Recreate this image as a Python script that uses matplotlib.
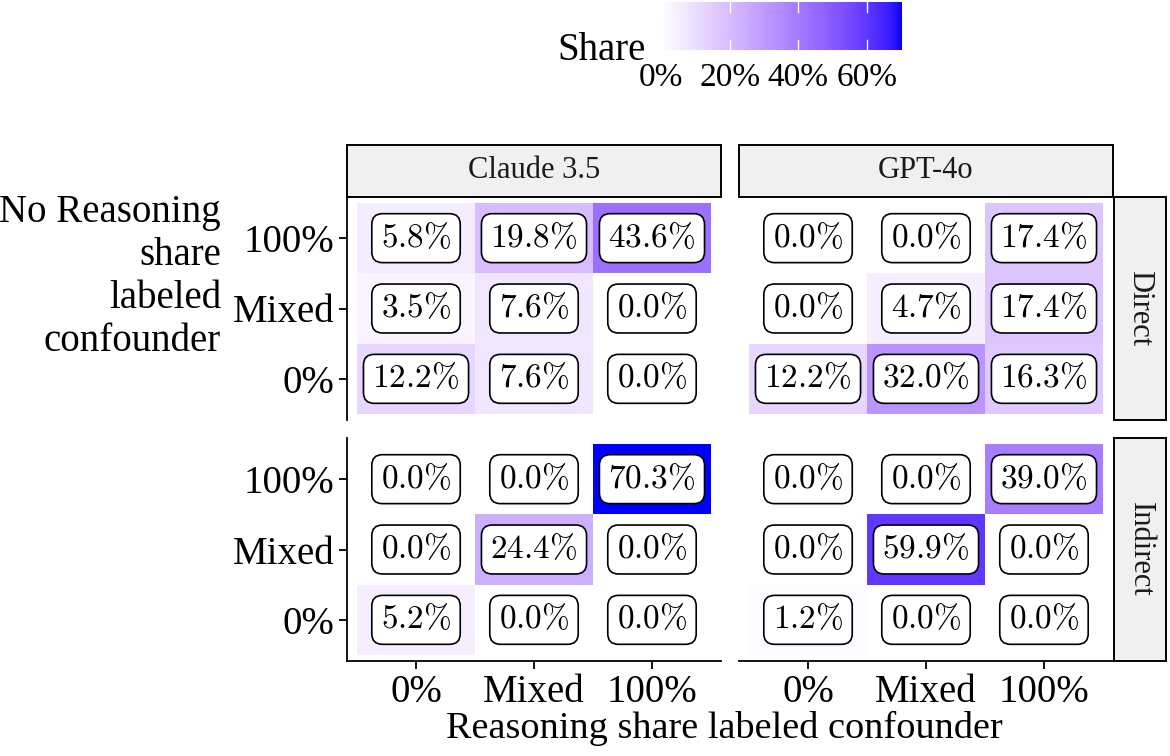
import numpy as np
import matplotlib
matplotlib.use("Agg")
import matplotlib.pyplot as plt
from matplotlib.colors import ListedColormap
from matplotlib.patches import Rectangle

plt.rcParams["font.family"] = ["Liberation Serif", "DejaVu Serif"]
plt.rcParams["mathtext.fontset"] = "cm"

# categories
levels = ["0%", "Mixed", "100%"]          # x (Reasoning) and y (No Reasoning)
models = ["Claude 3.5", "GPT-4o"]
prompts = ["Direct", "Indirect"]

# share values in %, rows = No Reasoning level (100%, Mixed, 0%), cols = Reasoning level (0%, Mixed, 100%)
claude_direct = [[5.8, 19.8, 43.6],
                 [3.5, 7.6, 0.0],
                 [12.2, 7.6, 0.0]]
gpt_direct = [[0.0, 0.0, 17.4],
              [0.0, 4.7, 17.4],
              [12.2, 32.0, 16.3]]
claude_indirect = [[0.0, 0.0, 70.3],
                   [0.0, 24.4, 0.0],
                   [5.2, 0.0, 0.0]]
gpt_indirect = [[0.0, 0.0, 39.0],
                [0.0, 59.9, 0.0],
                [1.2, 0.0, 0.0]]
row_levels = ["100%", "Mixed", "0%"]

legend_ticks = [0, 20, 40, 60]
legend_labels = ["0%", "20%", "40%", "60%"]

panels = {("Direct", "Claude 3.5"): claude_direct,
          ("Direct", "GPT-4o"): gpt_direct,
          ("Indirect", "Claude 3.5"): claude_indirect,
          ("Indirect", "GPT-4o"): gpt_indirect}
vmax = max(max(max(r) for r in m) for m in panels.values())


# white -> blue gradient interpolated in Lab space (like ggplot)
def srgb_to_lin(c):
    c = np.asarray(c, float)
    return np.where(c <= 0.04045, c / 12.92, ((c + 0.055) / 1.055) ** 2.4)


def lin_to_srgb(c):
    return np.where(c <= 0.0031308, 12.92 * c, 1.055 * np.power(np.clip(c, 0, None), 1 / 2.4) - 0.055)


M = np.array([[0.4124, 0.3576, 0.1805], [0.2126, 0.7152, 0.0722], [0.0193, 0.1192, 0.9505]])
WP = np.array([0.95047, 1.0, 1.08883])


def rgb_to_lab(rgb):
    xyz = M @ srgb_to_lin(rgb) / WP
    f = np.where(xyz > 0.008856, np.cbrt(xyz), 7.787 * xyz + 16 / 116)
    return np.array([116 * f[1] - 16, 500 * (f[0] - f[1]), 200 * (f[1] - f[2])])


def lab_to_rgb(lab):
    fy = (lab[0] + 16) / 116
    fx = fy + lab[1] / 500
    fz = fy - lab[2] / 200
    f = np.array([fx, fy, fz])
    xyz = np.where(f ** 3 > 0.008856, f ** 3, (f - 16 / 116) / 7.787) * WP
    return np.clip(lin_to_srgb(np.linalg.inv(M) @ xyz), 0, 1)


lab_w = rgb_to_lab([1, 1, 1])
lab_b = rgb_to_lab([0, 0, 1])
cmap = ListedColormap([lab_to_rgb(lab_w + t * (lab_b - lab_w)) for t in np.linspace(0, 1, 256)])

W, H = 1170, 756
fig = plt.figure(figsize=(W / 100, H / 100), dpi=100)


def px_axes(x0, y0, x1, y1):
    return fig.add_axes([x0 / W, 1 - y1 / H, (x1 - x0) / W, (y1 - y0) / H])


col_x = {"Claude 3.5": (347, 721), "GPT-4o": (739, 1113)}
row_y = {"Direct": (197, 420), "Indirect": (438, 661)}
ex = 0.085

for (prompt, model), vals in panels.items():
    x0, x1 = col_x[model]
    y0, y1 = row_y[prompt]
    ax = px_axes(x0, y0, x1, y1)
    for i, rl in enumerate(row_levels):
        yi = levels.index(rl)
        for j in range(3):
            v = vals[i][j]
            ax.add_patch(Rectangle((j - 0.5, yi - 0.5), 1, 1, facecolor=cmap(v / vmax), edgecolor="none"))
            ax.text(j, yi, r"$%.1f\%%$" % v, ha="center", va="center", fontsize=24,
                    bbox=dict(boxstyle="round,pad=0.27,rounding_size=0.32", fc="white", ec="black", lw=1.2))
    ax.set_xlim(-0.5 - ex, 2.5 + ex)
    ax.set_ylim(-0.5 - ex, 2.5 + ex)
    for s in ["top", "right"]:
        ax.spines[s].set_visible(False)
    ax.spines["left"].set_linewidth(1.3)
    ax.spines["bottom"].set_linewidth(1.3)
    ax.set_xticks(range(3))
    ax.set_yticks(range(3))
    ax.tick_params(length=6, width=1.3, labelsize=28, pad=3)
    if model == "Claude 3.5":
        ax.set_yticklabels(levels)
    else:
        ax.spines["left"].set_visible(False)
        ax.tick_params(left=False, labelleft=False)
    if prompt == "Indirect":
        ax.set_xticklabels(levels)
    else:
        ax.spines["bottom"].set_visible(False)
        ax.tick_params(bottom=False, labelbottom=False)

# strips
for model, (x0, x1) in col_x.items():
    fig.patches.append(Rectangle((x0 / W, 1 - 197 / H), (x1 - x0) / W, 52 / H, transform=fig.transFigure,
                                 facecolor="#f0f0f0", edgecolor="black", lw=1.4))
    fig.text((x0 + x1) / 2 / W, 1 - 171 / H, model, ha="center", va="center", fontsize=22, color="#1a1a1a")
for prompt, (y0, y1) in row_y.items():
    fig.patches.append(Rectangle((1114 / W, 1 - y1 / H), 52 / W, (y1 - y0) / H, transform=fig.transFigure,
                                 facecolor="#f0f0f0", edgecolor="black", lw=1.4))
    fig.text(1140 / W, 1 - (y0 + y1) / 2 / H, prompt, ha="center", va="center", fontsize=22,
             color="#1a1a1a", rotation=-90)

# axis titles
fig.text(724 / W, 1 - 728 / H, "Reasoning share labeled confounder", ha="center", va="center", fontsize=27.5)
fig.text(221 / W, 1 - 277 / H, "No Reasoning\nshare\nlabeled\nconfounder", ha="right", va="center",
         fontsize=28, linespacing=1.22)

# legend
cax = px_axes(661, 2, 902, 50)
grad = np.linspace(0, vmax, 256)[None, :]
cax.imshow(grad, aspect="auto", cmap=cmap, extent=[0, vmax, 0, 1], vmin=0, vmax=vmax)
cax.set_xlim(0, vmax)
cax.set_ylim(0, 1)
for t in legend_ticks:
    cax.plot([t, t], [0, 0.2], color="white", lw=1)
    cax.plot([t, t], [0.8, 1], color="white", lw=1)
cax.set_xticks(legend_ticks)
cax.set_xticklabels(legend_labels)
cax.tick_params(length=0, labelsize=24, pad=9, left=False, labelleft=False)
for s in cax.spines.values():
    s.set_visible(False)
fig.text(646 / W, 1 - 51 / H, "Share", ha="right", va="center", fontsize=28)

fig.savefig("out.png", dpi=100)
